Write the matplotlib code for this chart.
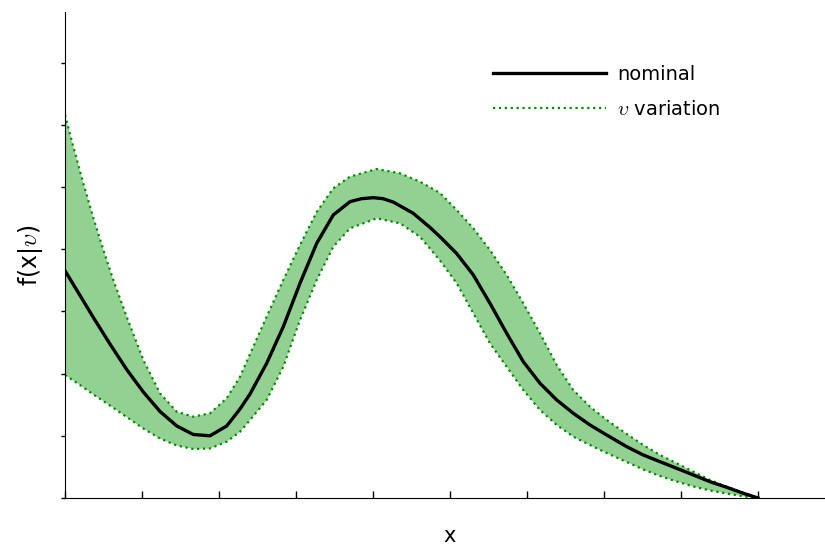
import numpy as np
import matplotlib
matplotlib.use('Agg')
import matplotlib.pyplot as plt

plt.rcParams['mathtext.fontset'] = 'cm'

# values, in tick units
x_nom = [0.000, 0.195, 0.368, 0.584, 0.801, 1.017, 1.234, 1.451, 1.666, 1.883, 2.100,
         2.273, 2.403, 2.619, 2.835, 3.052, 3.269, 3.484, 3.701, 3.850, 4.004, 4.130,
         4.264, 4.523, 4.740, 4.870, 5.087, 5.303, 5.519, 5.736, 5.952, 6.169, 6.386,
         6.601, 6.818, 7.035, 7.295, 7.510, 7.727, 7.944, 8.160, 8.377, 8.594, 8.809,
         9.000]
y_nom = [3.654, 3.256, 2.902, 2.476, 2.066, 1.704, 1.391, 1.158, 1.021, 1.000, 1.158,
         1.431, 1.672, 2.166, 2.754, 3.452, 4.095, 4.550, 4.764, 4.812, 4.828, 4.812,
         4.757, 4.577, 4.350, 4.200, 3.930, 3.585, 3.130, 2.648, 2.191, 1.844, 1.576,
         1.362, 1.174, 1.013, 0.825, 0.691, 0.584, 0.477, 0.370, 0.262, 0.172, 0.076,
         0.000]

x_up = [0.000, 0.108, 0.238, 0.368, 0.497, 0.627, 0.801, 1.017, 1.234, 1.451, 1.666,
        1.883, 2.100, 2.273, 2.403, 2.619, 2.835, 3.052, 3.269, 3.484, 3.701, 4.048,
        4.351, 4.610, 4.870, 5.087, 5.303, 5.519, 5.736, 5.952, 6.169, 6.386, 6.601,
        6.818, 7.035, 7.295, 7.510, 7.727, 7.944, 8.160, 8.377, 8.594, 8.809, 9.000]
y_up = [6.158, 5.648, 5.059, 4.502, 3.995, 3.505, 2.915, 2.219, 1.683, 1.387, 1.307,
        1.362, 1.603, 1.950, 2.315, 2.915, 3.505, 4.068, 4.598, 4.979, 5.166, 5.289,
        5.220, 5.085, 4.904, 4.630, 4.336, 3.987, 3.585, 3.130, 2.648, 2.138, 1.736,
        1.468, 1.254, 1.029, 0.852, 0.691, 0.558, 0.423, 0.289, 0.182, 0.085, 0.000]

x_lo = [0.000, 0.195, 0.368, 0.584, 0.801, 1.017, 1.234, 1.451, 1.666, 1.883, 2.100,
        2.273, 2.403, 2.619, 2.835, 3.052, 3.269, 3.484, 3.701, 4.048, 4.351, 4.610,
        4.870, 5.087, 5.303, 5.519, 5.736, 5.952, 6.169, 6.386, 6.601, 6.818, 7.035,
        7.295, 7.510, 7.727, 7.944, 8.160, 8.377, 8.594, 8.809, 9.000]
y_lo = [1.977, 1.817, 1.664, 1.487, 1.302, 1.117, 0.957, 0.844, 0.788, 0.796, 0.905,
        1.066, 1.254, 1.576, 2.111, 2.862, 3.505, 4.040, 4.336, 4.497, 4.416, 4.201,
        3.818, 3.452, 2.969, 2.487, 2.111, 1.736, 1.415, 1.174, 0.986, 0.852, 0.723,
        0.579, 0.458, 0.354, 0.265, 0.185, 0.121, 0.072, 0.027, 0.000]

fig = plt.figure(figsize=(8.25, 5.45), dpi=100)
ax = fig.add_axes([65 / 825, 1 - 498 / 545, 760 / 825, 486 / 545])

# band: upper edge forward, lower edge back
ax.fill(np.r_[x_up, x_lo[::-1]], np.r_[y_up, y_lo[::-1]], color='#93d193', lw=0)
ax.plot(x_up, y_up, color='#008c00', lw=1.6, ls=':', label=r'$\upsilon$ variation')
ax.plot(x_lo, y_lo, color='#008c00', lw=1.6, ls=':')
ax.plot(x_nom, y_nom, color='black', lw=2.4, solid_joinstyle='round', label='nominal')

ax.set_xlim(0, 760 / 77)
ax.set_ylim(0, 486 / 62.2)
ax.set_xticks(np.arange(0, 10))
ax.set_yticks(np.arange(0, 8))
ax.set_xticklabels([])
ax.set_yticklabels([])
ax.tick_params(axis='x', direction='in', length=5, width=1)
ax.tick_params(axis='y', direction='out', length=3, width=1)
for s in ['top', 'right']:
    ax.spines[s].set_visible(False)

ax.set_xlabel('x', fontsize=15)
ax.xaxis.set_label_coords((450 - 65) / 760, -0.058)
ax.set_ylabel(r'f(x|$\upsilon$)', fontsize=17)
ax.yaxis.set_label_coords(-0.026, 0.5)

handles, labels = ax.get_legend_handles_labels()
ax.legend(handles[::-1], labels[::-1], loc='upper left', frameon=False, fontsize=14,
          bbox_to_anchor=(493 / 825, 1 - 65 / 545), bbox_transform=fig.transFigure,
          borderpad=0, borderaxespad=0, handlelength=5.8, handletextpad=0.6,
          labelspacing=0.8)

fig.savefig('out.png', dpi=100)
